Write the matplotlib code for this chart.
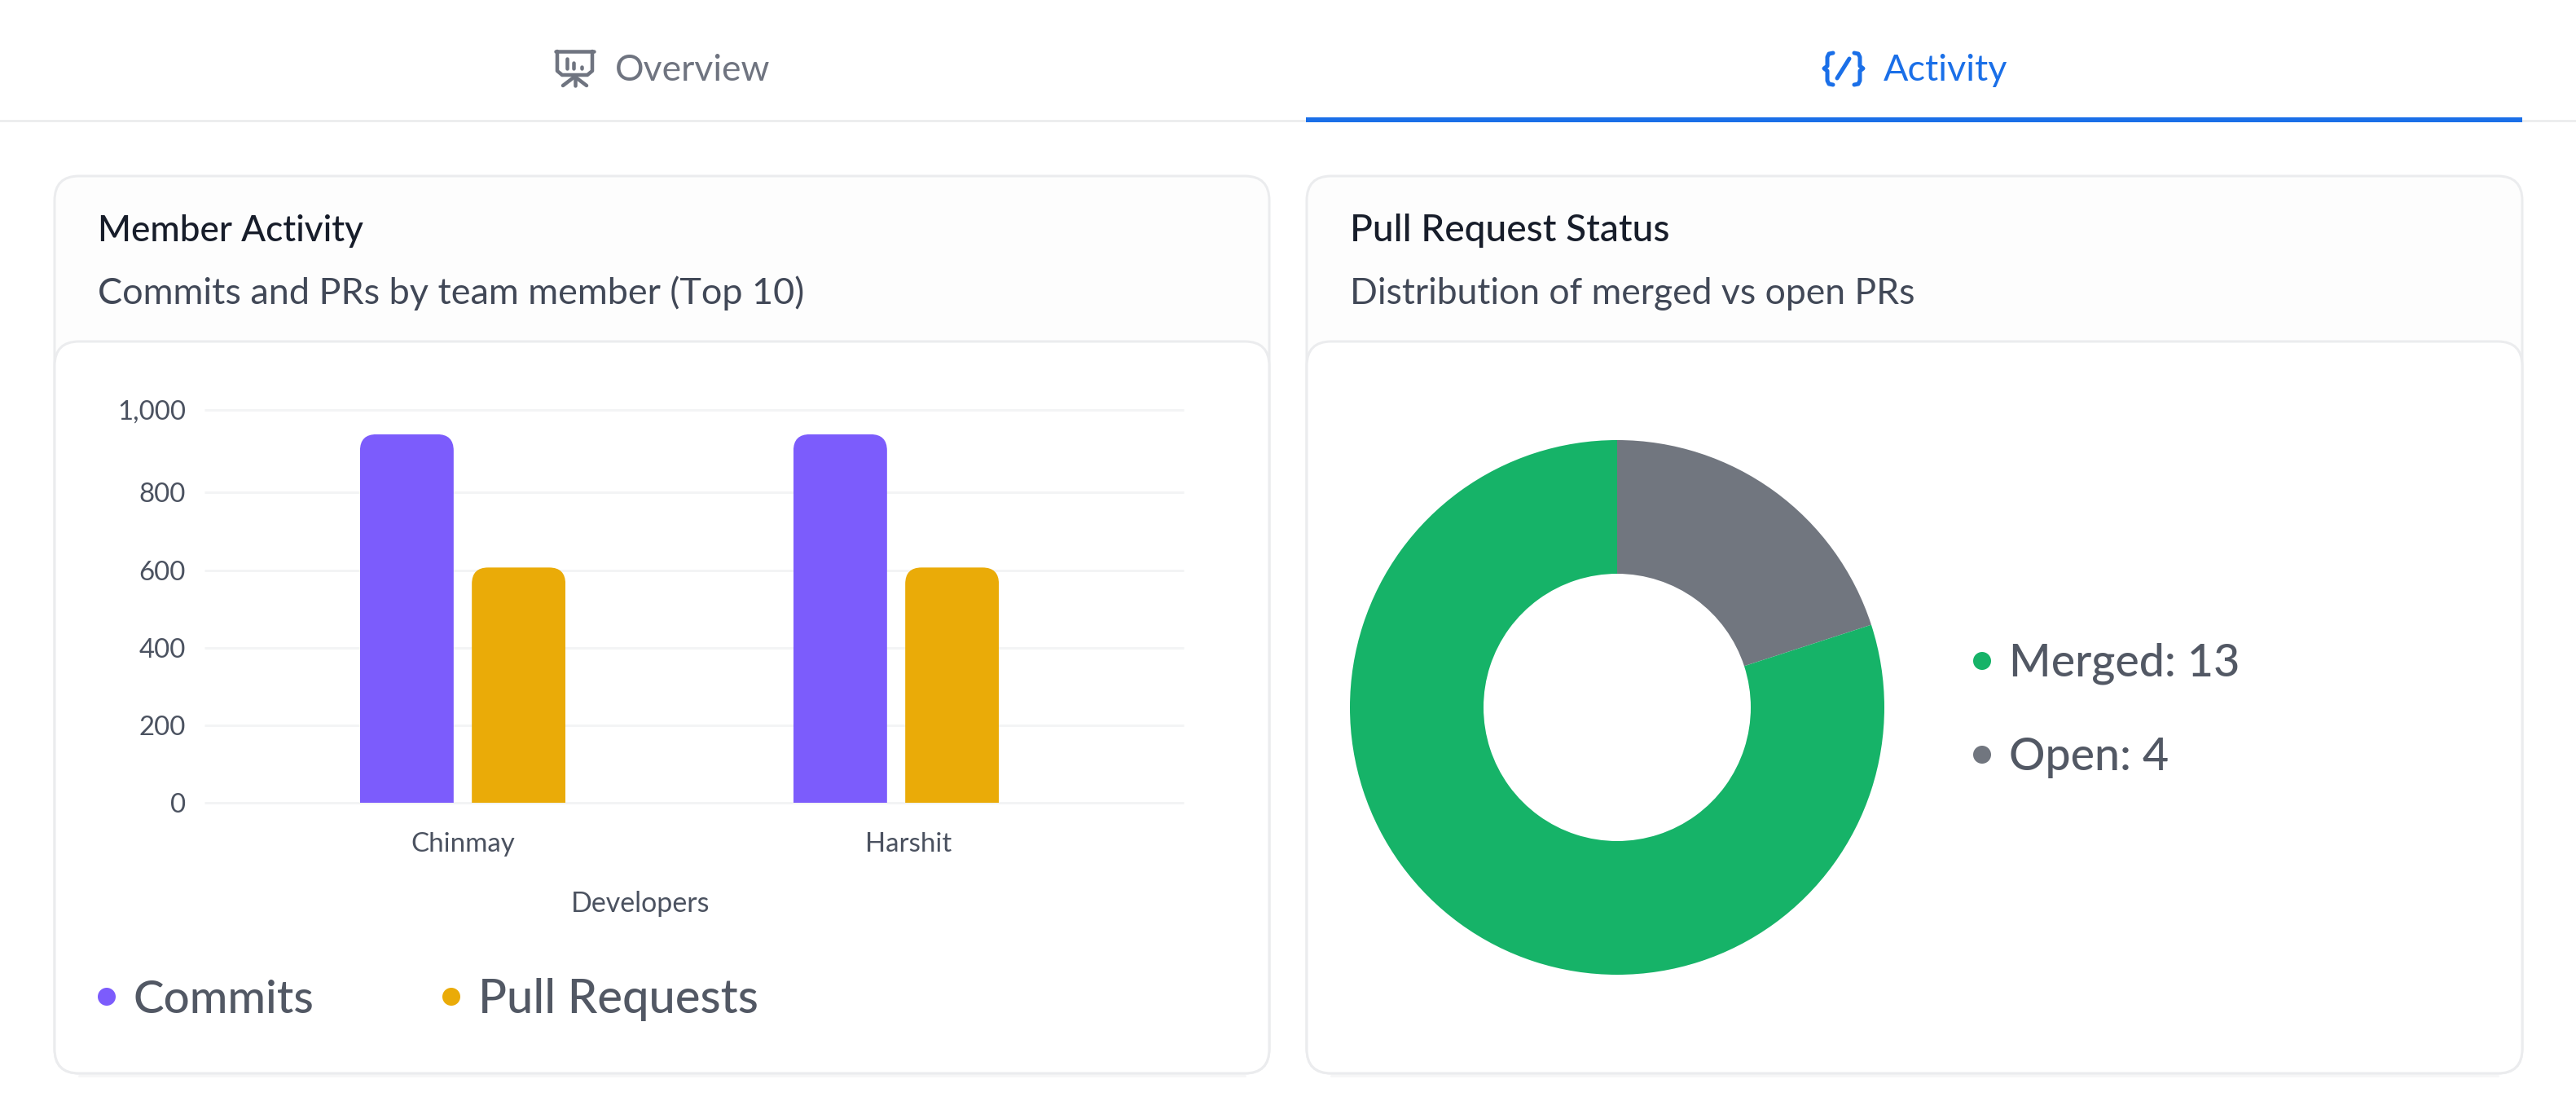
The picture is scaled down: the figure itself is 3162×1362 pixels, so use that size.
import numpy as np
import matplotlib
matplotlib.use("Agg")
import matplotlib.pyplot as plt
from matplotlib.patches import Circle, FancyBboxPatch
from matplotlib.path import Path
from matplotlib.transforms import IdentityTransform

developers = ["Chinmay", "Harshit"]
commits = [941, 941]
pull_requests = [607, 607]
y_ticks = [0, 200, 400, 600, 800, 1000]
y_tick_labels = ["0", "200", "400", "600", "800", "1,000"]
# the reference axis is not quite even, the top step is taller
y_tick_heights = [0, 95, 190, 285, 380.3, 481.7]

pr_labels = ["Merged: 13", "Open: 4"]
# shares as drawn in the picture
open_share = 20
merged_share = 80

W, H = 3162, 1362
plt.rcParams["font.family"] = ["Lato", "DejaVu Sans"]

PURPLE = "#7c5cfc"
GOLD = "#eaab08"
GREEN = "#16b368"
GREY = "#71767f"
BORDER = "#ebecee"
TEXT = "#4b5260"


def px(size):
    return size * 72 / 100


fig = plt.figure(figsize=(W / 100, H / 100), dpi=100, facecolor="white")

# page layer, works in screenshot pixels
bg = fig.add_axes([0, 0, 1, 1])
bg.set_xlim(0, W)
bg.set_ylim(H, 0)
bg.axis("off")


def card(x0, y0, x1, y1, face):
    r = 30
    box = FancyBboxPatch((x0 + r, y0 + r), x1 - x0 - 2 * r, y1 - y0 - 2 * r,
                         boxstyle="round,pad=%d,rounding_size=%d" % (r, r),
                         fc=face, ec=BORDER, lw=px(3))
    bg.add_patch(box)


for x0, x1, tx, title, sub, title_size, sub_size in [
    (67, 1558, 120, "Member Activity", "Commits and PRs by team member (Top 10)", 44, 45),
    (1604, 3096, 1657, "Pull Request Status", "Distribution of merged vs open PRs", 46, 44.5),
]:
    # faint shadow under the card
    bg.plot([x0 + 30, x1 - 30], [1320, 1320], color="#f6f6f7", lw=px(3), solid_capstyle="round")
    card(x0, 216, x1, 1317, "#fdfdfd")
    card(x0, 419, x1, 1317, "white")
    bg.text(tx, 296, title, fontsize=px(title_size), color="#171d2a", va="baseline", fontweight="medium")
    bg.text(tx, 373, sub, fontsize=px(sub_size), color="#414857", va="baseline")

# tab bar
bg.plot([0, W], [147.5, 147.5], color="#e9eaec", lw=px(2.5))
bg.plot([1603, 3096], [147, 147], color="#1a6fe8", lw=px(6), solid_capstyle="butt")
bg.text(755, 99, "Overview", fontsize=px(44.5), color="#6f7480", va="baseline")
bg.text(2312, 99, "Activity", fontsize=px(45), color="#1a6fe8", va="baseline")

# presentation icon
ic = dict(color="#6f7480", lw=px(4.5), solid_capstyle="round", solid_joinstyle="round")
bg.plot([682, 729], [63, 63], **ic)
bg.plot([684, 684, 690, 721, 727, 727], [63, 87, 92, 92, 87, 63], **ic)
bg.plot([696, 696], [72, 84], **ic)
bg.plot([704, 704], [77, 84], **ic)
bg.plot([714, 714], [82, 84], **ic)
bg.plot([705.5, 705.5], [92, 105], **ic)
bg.plot([705.5, 691], [94, 105], **ic)
bg.plot([705.5, 720], [94, 105], **ic)

# code icon
ic = dict(color="#1a6fe8", lw=px(5), solid_capstyle="round", solid_joinstyle="round")
bg.plot([2250, 2245, 2243, 2243, 2239, 2243, 2243, 2245, 2250],
        [65, 66, 70, 81, 84, 87, 99, 103, 104], **ic)
bg.plot([2276, 2281, 2283, 2283, 2287, 2283, 2283, 2281, 2276],
        [65, 66, 70, 81, 84, 87, 99, 103, 104], **ic)
bg.plot([2255, 2270], [96, 72], **ic)

# legends
for x, tx, y, base, color, label, size in [
    (131, 164, 1223, 1243, PURPLE, "Commits", 56.5),
    (554, 587, 1223, 1243, GOLD, "Pull Requests", 58),
    (2433, 2466, 811, 830, GREEN, pr_labels[0], 55.5),
    (2433, 2466, 926, 945, GREY, pr_labels[1], 55.5),
]:
    bg.add_patch(Circle((x, y), 11, fc=color, ec="none"))
    bg.text(tx, base, label, fontsize=px(size), color="#525864", va="baseline", fontweight="medium")


def axes_px(x0, y0, x1, y1):
    return fig.add_axes([x0 / W, 1 - y1 / H, (x1 - x0) / W, (y1 - y0) / H])


# bar chart
ax = axes_px(251, 503, 1453, 984.7)
ax.patch.set_alpha(0)
ax.set_yscale("function", functions=(
    lambda v: np.interp(v, y_ticks, y_tick_heights),
    lambda v: np.interp(v, y_tick_heights, y_ticks),
))
ax.set_ylim(0, 1000)
ax.set_xlim(-317 / 532, 885 / 532)
x = np.arange(len(developers))
bars_c = ax.bar(x - 0.129, commits, 0.216, color=PURPLE, zorder=3)
bars_p = ax.bar(x + 0.129, pull_requests, 0.216, color=GOLD, zorder=3)
ax.set_yticks(y_ticks)
ax.set_yticklabels(y_tick_labels)
ax.yaxis.set_minor_locator(plt.NullLocator())
ax.set_xticks([0, 1.028])
ax.set_xticklabels(developers)
ax.tick_params(axis="y", length=0, pad=px(23), labelsize=px(33), labelcolor=TEXT)
ax.tick_params(axis="x", length=0, pad=px(36), labelsize=px(33), labelcolor=TEXT)
ax.grid(axis="y", color="#f3f4f5", lw=px(3))
ax.set_axisbelow(True)
for line in ax.get_ygridlines():
    line.set_clip_on(False)
    line.set_solid_capstyle("butt")
for s in ax.spines.values():
    s.set_visible(False)
ax.set_xlabel("Developers", fontsize=px(34), color=TEXT)
ax.xaxis.set_label_coords((786 - 251) / 1202, -0.224)

# round the top corners of the bars
fig.canvas.draw()
for bar in list(bars_c) + list(bars_p):
    (x0, y0), (x1, y1) = ax.transData.transform(
        [(bar.get_x(), 0), (bar.get_x() + bar.get_width(), bar.get_height())])
    r = 20
    verts = [(x0, y0 - 5), (x0, y1 - r), (x0, y1), (x0 + r, y1), (x1 - r, y1),
             (x1, y1), (x1, y1 - r), (x1, y0 - 5), (x0, y0 - 5)]
    codes = [Path.MOVETO, Path.LINETO, Path.CURVE3, Path.CURVE3, Path.LINETO,
             Path.CURVE3, Path.CURVE3, Path.LINETO, Path.CLOSEPOLY]
    bar.set_clip_path(Path(verts, codes), IdentityTransform())

# donut
ax2 = axes_px(1657, 540, 2313, 1196)
ax2.pie([open_share, merged_share], colors=[GREY, GREEN], startangle=90, counterclock=False,
        radius=1.0, wedgeprops=dict(width=0.5, linewidth=0))
ax2.set_xlim(-1, 1)
ax2.set_ylim(-1, 1)

fig.savefig("out.png", dpi=100, facecolor="white")
